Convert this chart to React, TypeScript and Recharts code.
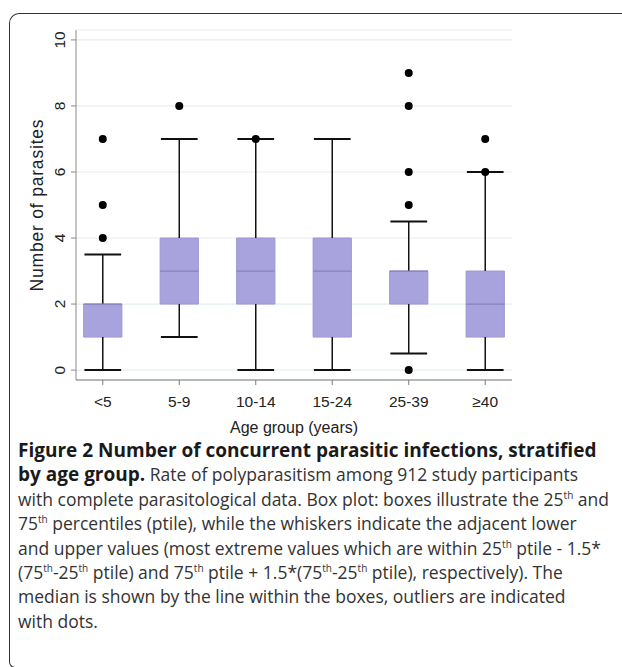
import React from "react";
import {
  ComposedChart,
  XAxis,
  YAxis,
  CartesianGrid,
  ReferenceArea,
  ReferenceLine,
  Scatter,
} from "recharts";

// age groups and box plot statistics
const categories = ["<5", "5-9", "10-14", "15-24", "25-39", "≥40"];
const lowerWhisker = [0, 1, 0, 0, 0.5, 0];
const q1 = [1, 2, 2, 1, 2, 1];
const median = [2, 3, 3, 3, 3, 2];
const q3 = [2, 4, 4, 4, 3, 3];
const upperWhisker = [3.5, 7, 7, 7, 4.5, 6];
const outliers = [[4, 5, 7], [8], [7], [], [0, 5, 6, 8, 9], [6, 7]];
const yTicks = [0, 2, 4, 6, 8, 10];

const outlierPoints = outliers.flatMap((vals, i) => vals.map((v) => ({ x: i, y: v })));

const BOX_HALF = 0.25;
const CAP_HALF = 0.24;
const chartFont = "'Liberation Sans', Arial, sans-serif";
const captionFont = "'Open Sans', sans-serif";

const YTick = (props: any) => {
  const { x, y, payload } = props;
  return (
    <text
      x={x}
      y={y}
      transform={`rotate(-90 ${x} ${y})`}
      textAnchor="middle"
      fontSize={15.5}
      fill="#222"
      fontFamily={chartFont}
    >
      {payload.value}
    </text>
  );
};

const YTitle = (props: any) => {
  const { viewBox } = props;
  const x = viewBox.x + 43;
  const y = viewBox.y + viewBox.height / 2;
  return (
    <text
      x={x}
      y={y}
      transform={`rotate(-90 ${x} ${y})`}
      textAnchor="middle"
      fontSize={17.5}
      letterSpacing={0.8}
      fill="#222"
      fontFamily={chartFont}
    >
      Number of parasites
    </text>
  );
};

const Dot = (props: any) => <circle cx={props.cx} cy={props.cy} r={4} fill="#000" />;

const sup = (s: string) => (
  <sup style={{ fontSize: 10, lineHeight: 0 }}>{s}</sup>
);

const lineStyle: React.CSSProperties = { whiteSpace: "nowrap", height: 24.4 };

export default function App() {
  return (
    <div style={{ position: "absolute", left: 0, top: 0, width: 622, height: 667, background: "#fff", overflow: "hidden" }}>
      <div
        style={{
          position: "absolute",
          left: 9,
          top: 13,
          width: 660,
          height: 655,
          borderTop: "1.5px solid #333",
          borderLeft: "1.5px solid #333",
          borderBottom: "1.5px solid #333",
          borderTopLeftRadius: 10,
          borderBottomLeftRadius: 6,
          boxSizing: "border-box",
        }}
      />
      <div style={{ position: "absolute", left: 0, top: 0 }}>
        <ComposedChart width={560} height={450} margin={{ top: 30, right: 48, left: 0, bottom: 0 }}>
          <CartesianGrid horizontal vertical={false} stroke="#e5eef0" strokeWidth={1.2} />
          <XAxis
            type="number"
            dataKey="x"
            domain={[-0.35, 5.35]}
            ticks={[0, 1, 2, 3, 4, 5]}
            interval={0}
            allowDataOverflow
            tickFormatter={(v: number) => categories[v]}
            height={70}
            tickSize={5}
            tickMargin={11}
            stroke="#7a7a7a"
            tick={{ fill: "#222", fontSize: 15.5, fontFamily: chartFont }}
            label={{
              value: "Age group (years)",
              position: "insideBottom",
              offset: 17,
              fill: "#222",
              fontSize: 16,
              fontFamily: chartFont,
            }}
          />
          <YAxis
            type="number"
            dataKey="y"
            domain={[-0.3, 10.3]}
            ticks={yTicks}
            interval={0}
            allowDataOverflow
            width={76}
            tickSize={5}
            tickMargin={5.5}
            stroke="#8a8a8a"
            tick={<YTick />}
            label={<YTitle />}
          />
          {categories.map((c, i) => (
            <ReferenceLine
              key={`wu-${c}`}
              segment={[{ x: i, y: q3[i] }, { x: i, y: upperWhisker[i] }]}
              stroke="#111"
              strokeWidth={1.5}
            />
          ))}
          {categories.map((c, i) => (
            <ReferenceLine
              key={`wl-${c}`}
              segment={[{ x: i, y: lowerWhisker[i] }, { x: i, y: q1[i] }]}
              stroke="#111"
              strokeWidth={1.5}
            />
          ))}
          {categories.map((c, i) => (
            <ReferenceLine
              key={`cu-${c}`}
              segment={[{ x: i - CAP_HALF, y: upperWhisker[i] }, { x: i + CAP_HALF, y: upperWhisker[i] }]}
              stroke="#111"
              strokeWidth={2}
            />
          ))}
          {categories.map((c, i) => (
            <ReferenceLine
              key={`cl-${c}`}
              segment={[{ x: i - CAP_HALF, y: lowerWhisker[i] }, { x: i + CAP_HALF, y: lowerWhisker[i] }]}
              stroke="#111"
              strokeWidth={2}
            />
          ))}
          {categories.map((c, i) => (
            <ReferenceArea
              key={`box-${c}`}
              x1={i - BOX_HALF}
              x2={i + BOX_HALF}
              y1={q1[i]}
              y2={q3[i]}
              fill="#a8a3dc"
              fillOpacity={1}
              stroke="#9c98d0"
              strokeWidth={1}
            />
          ))}
          {categories.map((c, i) => (
            <ReferenceLine
              key={`med-${c}`}
              segment={[{ x: i - BOX_HALF, y: median[i] }, { x: i + BOX_HALF, y: median[i] }]}
              stroke="#8682bd"
              strokeWidth={1.2}
            />
          ))}
          <Scatter data={outlierPoints} dataKey="y" shape={<Dot />} isAnimationActive={false} />
        </ComposedChart>
      </div>
      <div
        style={{
          position: "absolute",
          left: 18,
          top: 438,
          fontFamily: captionFont,
          fontSize: 17.5,
          color: "#333",
          lineHeight: "24.4px",
        }}
      >
        <div style={{ ...lineStyle, fontWeight: 700, fontSize: 19, color: "#1a1a1a" }}>
          Figure 2 Number of concurrent parasitic infections, stratified
        </div>
        <div style={lineStyle}>
          <b style={{ fontSize: 19, color: "#1a1a1a" }}>by age group.</b> Rate of polyparasitism among 912 study participants
        </div>
        <div style={lineStyle}>
          with complete parasitological data. Box plot: boxes illustrate the 25{sup("th")} and
        </div>
        <div style={lineStyle}>
          75{sup("th")} percentiles (ptile), while the whiskers indicate the adjacent lower
        </div>
        <div style={lineStyle}>
          and upper values (most extreme values which are within 25{sup("th")} ptile - 1.5*
        </div>
        <div style={lineStyle}>
          (75{sup("th")}-25{sup("th")} ptile) and 75{sup("th")} ptile + 1.5*(75{sup("th")}-25{sup("th")} ptile), respectively). The
        </div>
        <div style={lineStyle}>median is shown by the line within the boxes, outliers are indicated</div>
        <div style={lineStyle}>with dots.</div>
      </div>
    </div>
  );
}
